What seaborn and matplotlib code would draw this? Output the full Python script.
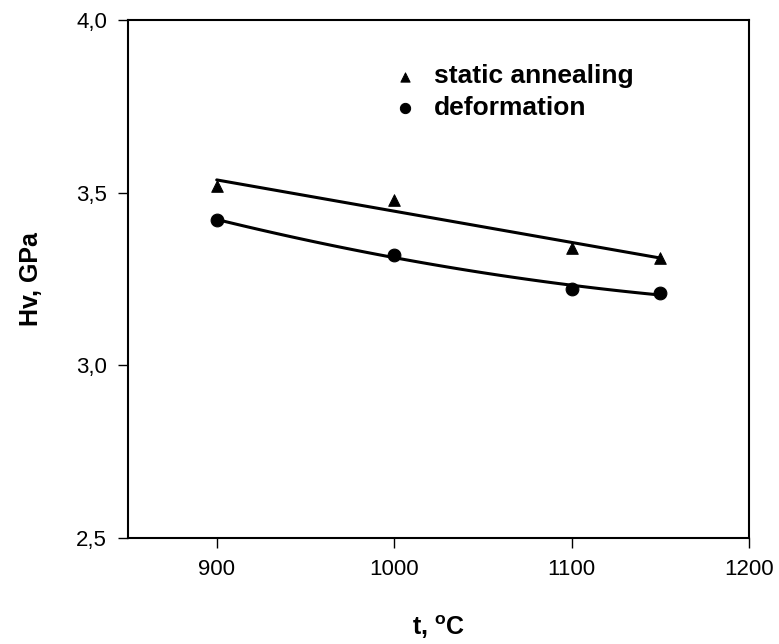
import seaborn as sns
import matplotlib.pyplot as plt
import matplotlib.ticker as mticker
import pandas as pd

# data
t = [900, 1000, 1100, 1150]
hv_static = [3.52, 3.48, 3.34, 3.31]
hv_deform = [3.42, 3.32, 3.22, 3.21]

df = pd.DataFrame({'t': t, 'static': hv_static, 'deform': hv_deform})

sns.set_theme(style='ticks')
plt.rcParams['font.family'] = ['Liberation Sans', 'DejaVu Sans']
plt.rcParams['text.color'] = 'black'
plt.rcParams['axes.labelcolor'] = 'black'

fig = plt.figure(figsize=(7.79, 6.44), dpi=100)
ax = fig.add_axes([128 / 779, 1 - 538 / 644, 621 / 779, 518 / 644])

# fitted lines
sns.regplot(x='t', y='static', data=df, ci=None, scatter=False, order=1,
            color='black', line_kws={'lw': 2.2}, ax=ax)
sns.regplot(x='t', y='deform', data=df, ci=None, scatter=False, order=2,
            color='black', line_kws={'lw': 2.2}, ax=ax)

# points
sns.scatterplot(x='t', y='static', data=df, marker='^', s=70, color='black',
                edgecolor='black', label='static annealing', ax=ax, zorder=3)
sns.scatterplot(x='t', y='deform', data=df, marker='o', s=85, color='black',
                edgecolor='black', label='deformation', ax=ax, zorder=3)

ax.set_xlim(850, 1200)
ax.set_ylim(2.5, 4.0)
ax.set_xticks([900, 1000, 1100, 1200])
ax.set_yticks([2.5, 3.0, 3.5, 4.0])
ax.yaxis.set_major_formatter(mticker.FuncFormatter(lambda v, p: f'{v:.1f}'.replace('.', ',')))

for s in ax.spines.values():
    s.set_color('black')
    s.set_linewidth(1.5)
ax.tick_params(direction='out', length=7, width=1, colors='black', labelsize=16, pad=8)

ax.set_xlabel('t, $\\mathregular{^{o}}$C', fontsize=18, fontweight='bold', labelpad=24)
ax.set_ylabel('Hv, GPa', fontsize=18, fontweight='bold', labelpad=24)

leg = ax.legend(loc='upper left', bbox_to_anchor=(0.386, 0.96), frameon=False,
                prop={'family': 'Liberation Sans', 'weight': 'bold', 'size': 19},
                handlelength=1.0, handletextpad=0.6, labelspacing=0.3, markerscale=0.8)

fig.savefig('out.png', dpi=100)
